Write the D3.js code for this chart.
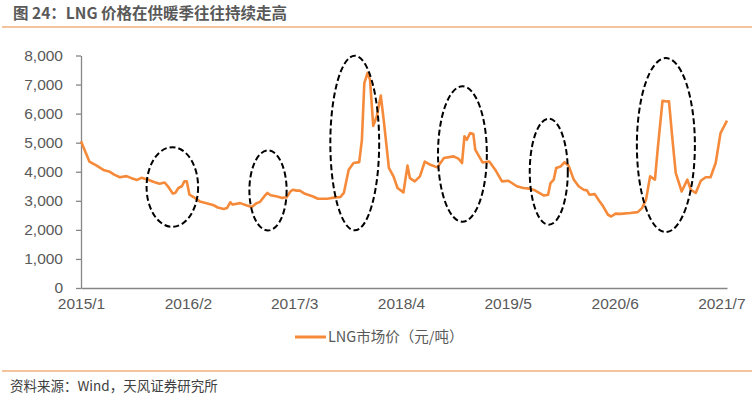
<html lang="zh">
  <head>
    <meta charset="UTF-8" />
    <title>LNG</title>
    <script src="https://cdn.jsdelivr.net/npm/d3@7"></script>
    <style>
      body { margin: 0; background: #fff; }
      text { font-family: "Liberation Sans", Arial, "Noto Sans CJK SC", sans-serif; }
      .cn { font-family: "Noto Sans CJK SC", sans-serif; }
    </style>
  </head>
  <body>
    <script>
      // LNG 市场价（元/吨）
      const dates = [
        "2015-01-01","2015-02-01","2015-02-28","2015-03-28","2015-04-15","2015-05-04","2015-05-25","2015-06-19",
        "2015-07-07","2015-07-28","2015-08-13","2015-09-04","2015-10-01","2015-10-19","2015-11-07","2015-11-19",
        "2015-12-07","2015-12-16","2015-12-28","2016-01-10","2016-01-19","2016-01-28","2016-02-07","2016-02-22",
        "2016-03-16","2016-04-10","2016-05-04","2016-05-22","2016-06-13","2016-06-25","2016-07-07","2016-07-16",
        "2016-08-13","2016-09-07","2016-09-25","2016-10-13","2016-10-25","2016-11-10","2016-11-22","2016-12-04",
        "2016-12-28","2017-01-16","2017-02-01","2017-02-15","2017-02-24","2017-03-10","2017-03-22","2017-04-10",
        "2017-05-10","2017-05-28","2017-07-01","2017-07-19","2017-08-19","2017-09-01","2017-09-19","2017-10-07",
        "2017-10-28","2017-11-07","2017-11-16","2017-11-28","2017-12-07","2017-12-19","2018-01-01","2018-01-16",
        "2018-01-28","2018-02-15","2018-03-04","2018-03-19","2018-04-10","2018-04-25","2018-05-04","2018-05-22",
        "2018-06-10","2018-06-28","2018-07-19","2018-08-13","2018-09-07","2018-10-13","2018-11-01","2018-11-13",
        "2018-11-22","2018-12-01","2018-12-13","2018-12-25","2019-01-01","2019-01-28","2019-02-22","2019-03-16",
        "2019-04-10","2019-05-04","2019-06-04","2019-06-28","2019-07-22","2019-08-10","2019-09-13","2019-09-28",
        "2019-10-07","2019-10-19","2019-10-28","2019-11-13","2019-11-28","2019-12-13","2020-01-01","2020-01-19",
        "2020-02-07","2020-02-19","2020-02-28","2020-03-19","2020-04-04","2020-04-19","2020-05-07","2020-05-19",
        "2020-06-04","2020-06-22","2020-07-28","2020-08-25","2020-09-10","2020-09-25","2020-10-10","2020-10-28",
        "2020-11-07","2020-11-25","2020-12-13","2020-12-19","2021-01-01","2021-01-13","2021-02-04","2021-02-25",
        "2021-03-10","2021-03-28","2021-04-16","2021-05-04","2021-05-22","2021-06-10","2021-06-28","2021-07-22"
      ];
      const prices = [
        5050,4350,4210,4050,4010,3900,3810,3850,
        3780,3720,3790,3730,3640,3590,3630,3500,
        3250,3270,3440,3500,3670,3670,3210,3130,
        2980,2920,2860,2770,2720,2750,2950,2870,
        2920,2840,2790,2920,2960,3150,3270,3190,
        3150,3100,3120,3320,3380,3350,3350,3240,
        3150,3070,3070,3100,3130,3270,4070,4300,
        4330,5100,7050,7400,7170,5580,5900,6620,
        5680,4130,3840,3440,3290,4210,3780,3670,
        3840,4350,4240,4150,4470,4530,4440,4300,
        5220,5100,5330,5300,4760,4320,4350,4070,
        3670,3690,3500,3440,3420,3360,3180,3210,
        3610,3730,4130,4180,4330,4210,3730,3500,
        3380,3360,3210,3230,3000,2810,2520,2460,
        2560,2550,2580,2610,2750,3040,3840,3730,
        4760,6440,6420,6420,5100,3960,3320,3730,
        3380,3270,3690,3810,3810,4300,5330,5760
      ];

      const xTickLabels = ["2015/1","2016/2","2017/3","2018/4","2019/5","2020/6","2021/7"];
      const yTicks = [0,1000,2000,3000,4000,5000,6000,7000,8000];

      // heating-season annotations: [start, end, low, high]
      const ovalStart = ["2015-09-01","2016-09-16","2017-07-13","2018-08-16","2019-07-22","2020-08-22"];
      const ovalEnd   = ["2016-03-10","2017-02-01","2018-01-10","2019-02-13","2019-12-10","2021-03-25"];
      const ovalLow   = [2105,1981,1985,2280,2180,1925];
      const ovalHigh  = [4845,4733,7990,6940,5825,7910];

      const width = 754, height = 397;
      const parse = d3.timeParse("%Y-%m-%d");
      const data = dates.map((d, i) => ({ date: parse(d), value: prices[i] }));

      const svg = d3.select("body").append("svg")
        .attr("width", width)
        .attr("height", height);

      // title + rules
      svg.append("text")
        .attr("class", "cn")
        .attr("x", 13).attr("y", 19)
        .attr("font-size", 15.5)
        .attr("font-weight", "bold")
        .attr("fill", "#595959")
        .text("图 24：LNG 价格在供暖季往往持续走高");
      svg.append("line")
        .attr("x1", 2).attr("x2", 752).attr("y1", 27).attr("y2", 27)
        .attr("stroke", "#E7893A").attr("stroke-width", 1.2);
      svg.append("line")
        .attr("x1", 2).attr("x2", 752).attr("y1", 371).attr("y2", 371)
        .attr("stroke", "#E7893A").attr("stroke-width", 1.2);
      svg.append("text")
        .attr("class", "cn")
        .attr("x", 10).attr("y", 391)
        .attr("font-size", 13.5)
        .attr("fill", "#404040")
        .text("资料来源：Wind，天风证券研究所");

      const x = d3.scaleTime()
        .domain([parse("2015-01-01"), parse("2021-07-22")])
        .range([81, 727]);
      const y = d3.scaleLinear()
        .domain([0, 8000])
        .range([288, 55.5]);

      // axes
      const yAxis = svg.append("g")
        .attr("transform", "translate(81,0)")
        .call(d3.axisLeft(y).tickValues(yTicks).tickSize(5).tickSizeOuter(0).tickPadding(13)
          .tickFormat(d3.format(",")));
      yAxis.select(".domain").attr("stroke", "#868686").attr("stroke-width", 1.3);
      yAxis.selectAll(".tick line").attr("stroke", "#868686").attr("stroke-width", 1.3);
      yAxis.selectAll(".tick text").attr("font-size", 15.5).attr("fill", "#595959");

      const xTickDates = xTickLabels.map(s => d3.timeParse("%Y/%m")(s));
      const xAxis = svg.append("g")
        .attr("transform", "translate(0,288)")
        .call(d3.axisBottom(x).tickValues(xTickDates).tickSize(0).tickSizeOuter(0).tickPadding(10)
          .tickFormat(d3.timeFormat("%Y/%-m")));
      xAxis.select(".domain").attr("stroke", "#868686").attr("stroke-width", 1.3);
      xAxis.selectAll(".tick text").attr("font-size", 15.5).attr("fill", "#595959");

      // series
      const line = d3.line()
        .x(d => x(d.date))
        .y(d => y(d.value));
      svg.append("path")
        .datum(data)
        .attr("fill", "none")
        .attr("stroke", "#F58A3A")
        .attr("stroke-width", 2.6)
        .attr("stroke-linejoin", "round")
        .attr("d", line);

      // dashed ovals
      svg.selectAll("ellipse.oval")
        .data(ovalStart.map((s, i) => ({
          x0: x(parse(s)), x1: x(parse(ovalEnd[i])),
          y0: y(ovalHigh[i]), y1: y(ovalLow[i])
        })))
        .enter()
        .append("ellipse")
        .attr("class", "oval")
        .attr("cx", d => (d.x0 + d.x1) / 2)
        .attr("cy", d => (d.y0 + d.y1) / 2)
        .attr("rx", d => (d.x1 - d.x0) / 2)
        .attr("ry", d => (d.y1 - d.y0) / 2)
        .attr("fill", "none")
        .attr("stroke", "#000")
        .attr("stroke-width", 2)
        .attr("stroke-dasharray", "6,3");

      // legend
      const legend = svg.append("g").attr("transform", "translate(295,337)");
      legend.append("line")
        .attr("x1", 0).attr("x2", 31)
        .attr("stroke", "#F58A3A").attr("stroke-width", 3);
      legend.append("text")
        .attr("class", "cn")
        .attr("x", 33).attr("y", 5)
        .attr("font-size", 14.5)
        .attr("fill", "#595959")
        .text("LNG市场价（元/吨）");
    </script>
  </body>
</html>
